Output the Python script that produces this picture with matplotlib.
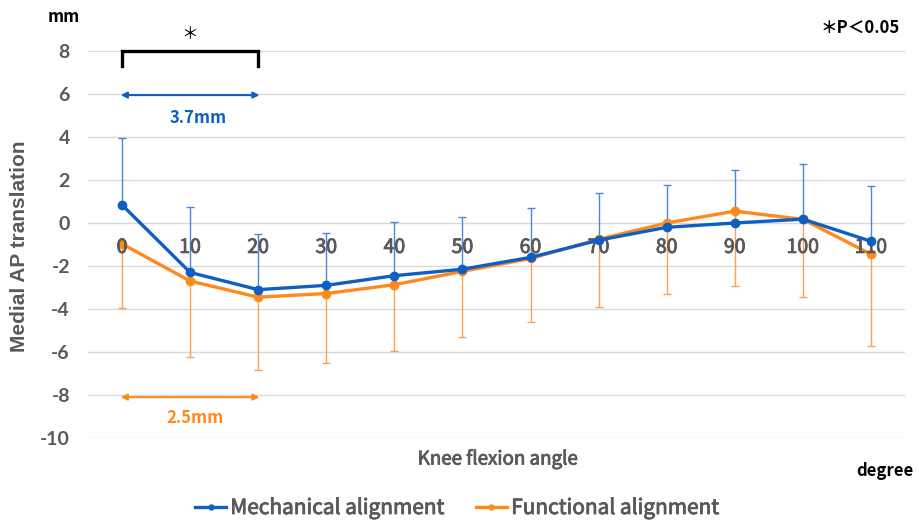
import matplotlib
matplotlib.use('Agg')
import matplotlib.pyplot as plt
import matplotlib.patheffects as pe
import numpy as np

plt.rcParams['font.family'] = ['Noto Sans CJK JP', 'DejaVu Sans']
plt.rcParams['axes.unicode_minus'] = False

angles = [0, 10, 20, 30, 40, 50, 60, 70, 80, 90, 100, 110]
mech_mean = [0.84, -2.3, -3.1, -2.9, -2.45, -2.15, -1.6, -0.8, -0.2, 0.0, 0.18, -0.85]
mech_sd = [3.1, 3.05, 2.6, 2.45, 2.5, 2.45, 2.3, 2.2, 1.95, 2.47, 2.55, 2.55]
func_mean = [-0.97, -2.7, -3.45, -3.28, -2.87, -2.25, -1.65, -0.76, 0.0, 0.55, 0.17, -1.45]
func_sd = [3.0, 3.55, 3.4, 3.22, 3.08, 3.05, 2.95, 3.14, 3.3, 3.5, 3.62, 4.25]
yticks = [-10, -8, -6, -4, -2, 0, 2, 4, 6, 8]

blue = '#0F5FC2'
orange = '#FF8A1C'
grey = '#595959'
# slight stroke to thicken the regular-weight CJK glyphs
thick = [pe.withStroke(linewidth=0.6, foreground=grey)]

x = np.arange(len(angles))

fig = plt.figure(figsize=(9.19, 5.22), dpi=100)
ax = fig.add_axes([88/919, 1-438/522, 817/919, 387/522])

# error bars: upper only for mechanical, lower only for functional
ax.errorbar(x, mech_mean, yerr=[np.zeros(len(x)), mech_sd], fmt='none',
            ecolor='#4A87D6', elinewidth=1, capsize=3, capthick=1, zorder=2)
ax.errorbar(x, func_mean, yerr=[func_sd, np.zeros(len(x))], fmt='none',
            ecolor='#FF9F55', elinewidth=1, capsize=3, capthick=1, zorder=2)
ax.plot(x, mech_mean, color=blue, lw=2.4, marker='o', ms=6,
        label='Mechanical alignment', zorder=4)
ax.plot(x, func_mean, color=orange, lw=2.4, marker='o', ms=6,
        label='Functional alignment', zorder=3)

ax.set_xlim(-0.5, len(x) - 0.5)
ax.set_ylim(-10, 8)
ax.set_yticks(yticks)
ax.set_yticklabels([str(v) for v in yticks], family='Lato', fontweight='bold',
                   fontsize=14, color=grey)
ax.yaxis.grid(True, color='#D9D9D9', lw=1)
ax.set_axisbelow(True)
for s in ax.spines.values():
    s.set_visible(False)
ax.tick_params(axis='y', length=0, pad=13)
ax.set_xticks([])

# category labels sit on the zero line
for xi, a in zip(x, angles):
    ax.annotate(str(a), (xi, 0), xytext=(0, -10), textcoords='offset points',
                ha='center', va='top', fontsize=14, color=grey,
                path_effects=thick)

fig.text(20/919, 1-246/522, 'Medial AP translation', rotation=90,
         ha='center', va='center', fontsize=15, fontweight='bold',
         color=grey, family='Liberation Sans')
fig.text(498/919, 1-459/522, 'Knee flexion angle', ha='center', va='center',
         fontsize=13.5, color=grey, path_effects=thick)

# significance bracket between 0 and 20 degrees
ax.plot([0, 0, 2, 2], [7.3, 8.0, 8.0, 7.3], color='black', lw=2.4,
        clip_on=False, solid_joinstyle='miter')
ax.text(1, 8.35, '＊', ha='center', va='bottom', fontsize=12)

ax.annotate('', xy=(2.02, 5.95), xytext=(-0.02, 5.95),
            arrowprops=dict(arrowstyle='<|-|>', color=blue, lw=1.5,
                            mutation_scale=9, shrinkA=0, shrinkB=0))
ax.text(1.12, 4.9, '3.7mm', ha='center', va='center', fontsize=12,
        fontweight='bold', color=blue)
ax.annotate('', xy=(2.02, -8.1), xytext=(-0.02, -8.1),
            arrowprops=dict(arrowstyle='<|-|>', color=orange, lw=1.5,
                            mutation_scale=9, shrinkA=0, shrinkB=0))
ax.text(1.07, -9.05, '2.5mm', ha='center', va='center', fontsize=12,
        fontweight='bold', color=orange)

fig.text(64/919, 1-17/522, 'mm', ha='center', va='center', fontsize=12,
         fontweight='bold')
fig.text(900/919, 1-28/522, '＊P＜0.05', ha='right', va='center', fontsize=12,
         fontweight='bold')
fig.text(885/919, 1-471/522, 'degree', ha='center', va='center', fontsize=12,
         fontweight='bold')

leg = fig.legend(loc='center', bbox_to_anchor=(457/919, 1-508/522), ncol=2,
                 frameon=False, labelcolor=grey, handlelength=1.5,
                 handletextpad=0.2, columnspacing=1.5, markerscale=0.6,
                 prop={'size': 15})
for t in leg.get_texts():
    t.set_path_effects(thick)

fig.savefig('out.png', dpi=100)
